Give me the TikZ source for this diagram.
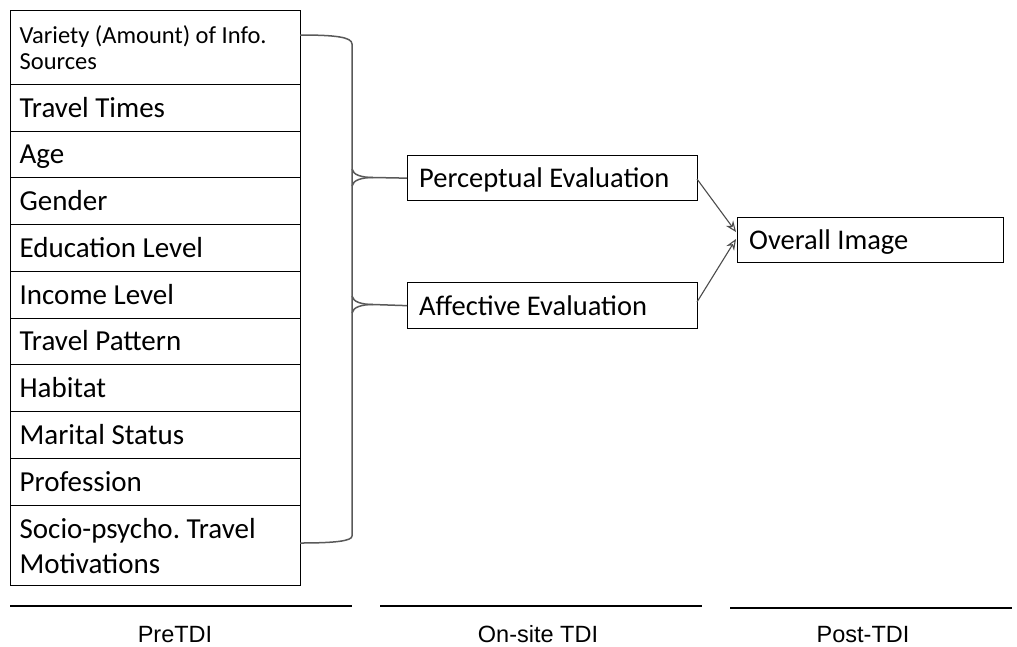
\documentclass[tikz,border=0pt]{standalone}
\usepackage{fontspec}
\setmainfont{Carlito}
\newfontfamily\labelfont{Liberation Sans}
\usetikzlibrary{arrows.meta}
\frenchspacing
\begin{document}
\begin{tikzpicture}[x=1pt,y=-1pt,
  cell/.style={draw=black, line width=1.3pt, rectangle, minimum width=290pt,
    text width=272pt, align=flush left, inner xsep=9pt, inner ysep=0pt, anchor=north west,
    text height=22pt, text depth=4pt, font=\fontsize{29}{35}\selectfont},
  twoline/.style={text height={}, text depth={}},
  evalbox/.style={draw=black, line width=1.3pt, rectangle, inner sep=0pt, anchor=north west},
  evaltext/.style={anchor=base west, inner sep=0pt, font=\fontsize{28.5}{34}\selectfont},
  brace/.style={draw=black!65, line width=1.5pt},
  link/.style={draw=black!70, line width=1.1pt, -{Stealth[length=11pt,width=9pt,open]}},
  phase/.style={line width=2pt},
  phaselabel/.style={anchor=base, inner sep=0pt, font=\labelfont\fontsize{23.5}{28}\selectfont}]
\useasboundingbox (0,0) rectangle (1017,646);

% PreTDI factor list
\node[cell, twoline, minimum height=74pt,
  font=\fontsize{24.5}{26}\selectfont] (r1) at (10,10) {Variety (Amount) of Info.\\Sources};
\node[cell, minimum height=47pt] (r2) at (10,84) {Travel Times};
\node[cell, minimum height=46pt] (r3) at (10,131) {Age};
\node[cell, minimum height=47pt] (r4) at (10,177) {Gender};
\node[cell, minimum height=47pt] (r5) at (10,224) {Education Level};
\node[cell, minimum height=47pt] (r6) at (10,271) {Income Level};
\node[cell, minimum height=46pt] (r7) at (10,318) {Travel Pattern};
\node[cell, minimum height=47pt] (r8) at (10,364) {Habitat};
\node[cell, minimum height=47pt] (r9) at (10,411) {Marital Status};
\node[cell, minimum height=47pt] (r10) at (10,458) {Profession};
\node[cell, twoline, minimum height=80pt, font=\fontsize{29}{35}\selectfont] (r11) at (10,505) {Socio-psycho. Travel\\Motivations};

% On-site evaluations
\node[evalbox, minimum width=290pt, minimum height=45pt] (pe) at (407,155) {};
\node[evaltext] (pet) at (419,187) {Perceptual Evaluation};
\node[evalbox, minimum width=290pt, minimum height=46pt] (ae) at (407,282) {};
\node[evaltext] (aet) at (419,315) {Affective Evaluation};

% Post-TDI
\node[evalbox, minimum width=266pt, minimum height=45pt] (oi) at (737,217) {};
\node[evaltext] (oit) at (749,249) {Overall Image};

% Brace grouping the factors
\coordinate (bt) at (300,35);
\coordinate (bb) at (300,543);
\draw[brace] (bt) .. controls (335,35) and (352,37) .. (352,44) -- (352,536)
  .. controls (352,541) and (335,543) .. (bb);
\draw[brace] (352,169) .. controls (353,175) and (362,177.5) .. (373,177.5) -- (pe.west);
\draw[brace] (352,186) .. controls (353,180) and (362,177.5) .. (373,177.5);
\draw[brace] (352,296) .. controls (353,302) and (362,304.5) .. (373,304.5) -- (ae.west);
\draw[brace] (352,313) .. controls (353,307) and (362,304.5) .. (373,304.5);

% Evaluations feed the overall image
\draw[link] (697,179) -- (736,232);
\draw[link] (697,302) -- (736,239);

% Phase axis
\coordinate (p1a) at (10,606); \coordinate (p1b) at (352,606);
\coordinate (p2a) at (380,606); \coordinate (p2b) at (702,606);
\coordinate (p3a) at (730,608); \coordinate (p3b) at (1012,608);
\draw[phase] (p1a) -- (p1b);
\draw[phase] (p2a) -- (p2b);
\draw[phase] (p3a) -- (p3b);
\node[phaselabel] (l1) at (175,642) {PreTDI};
\node[phaselabel] (l2) at (538,642) {On-site TDI};
\node[phaselabel] (l3) at (863,642) {Post-TDI};
\end{tikzpicture}
\end{document}
